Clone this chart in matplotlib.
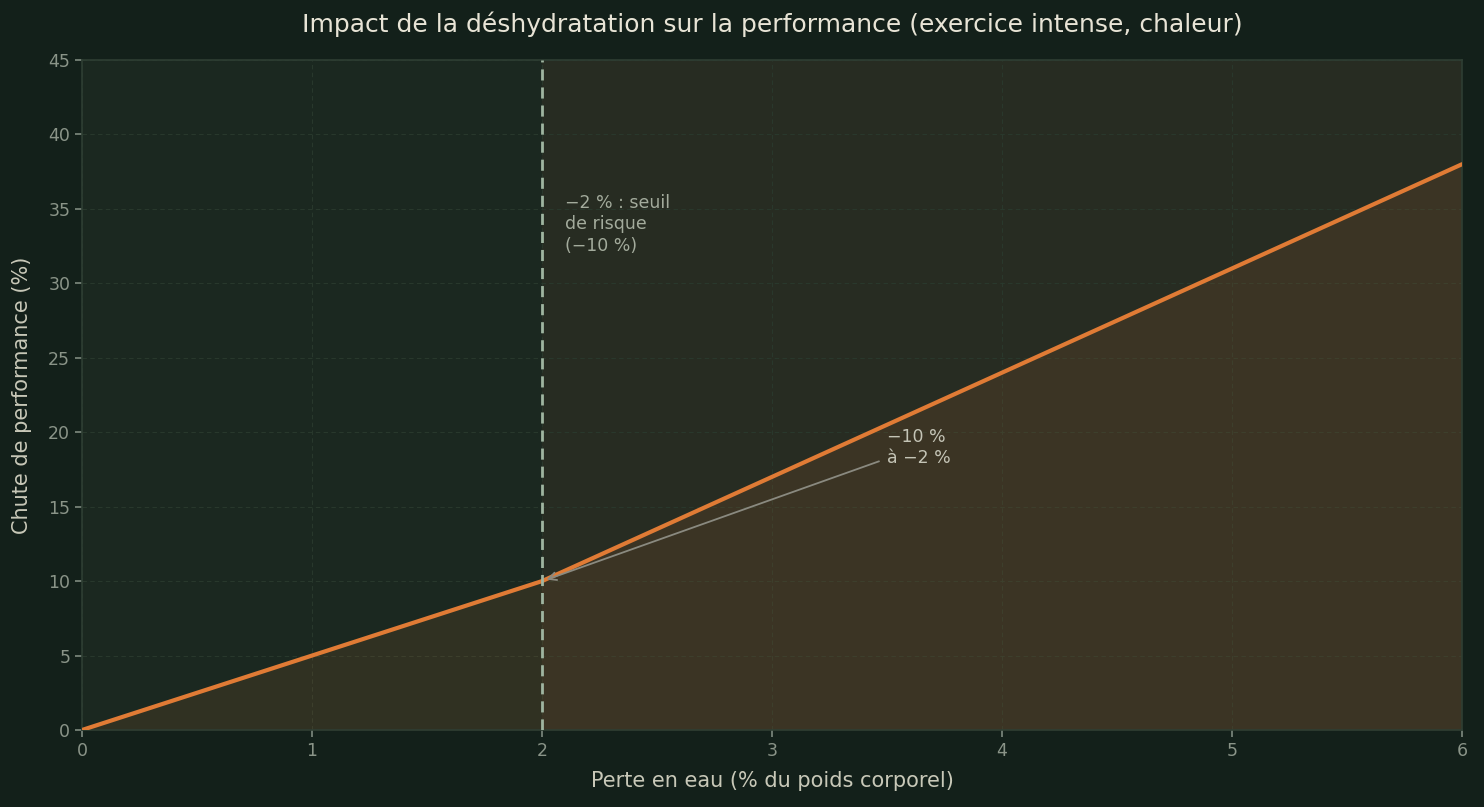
import matplotlib
matplotlib.use("Agg")
import matplotlib.pyplot as plt

# perte en eau (% du poids corporel) et chute de performance (%)
perte = [0, 1, 2, 3, 4, 5, 6]
chute = [0, 5, 10, 17, 24, 31, 38]
seuil = 2

x_ticks = [0, 1, 2, 3, 4, 5, 6]
y_ticks = [0, 5, 10, 15, 20, 25, 30, 35, 40, 45]

bg = "#13201a"
orange = "#e07b35"

fig = plt.figure(figsize=(14.84, 8.07), dpi=100, facecolor=bg)
ax = fig.add_axes([82 / 1484, 77 / 807, 1380 / 1484, 670 / 807])
ax.set_facecolor("#1a2820")

# zones avant / apres le seuil
ax.axvspan(0, seuil, color="#1b2820", zorder=0)
ax.axvspan(seuil, 6, color="#272c22", zorder=0)

ax.fill_between(perte, chute, 0, color=orange, alpha=0.11, lw=0, zorder=1)
ax.plot(perte, chute, color=orange, lw=3, zorder=3, solid_capstyle="round")

ax.axvline(seuil, color="#9fb5a0", lw=2, ls=(0, (4, 2.5)), zorder=4)

ax.text(2.1, 36.0, "\u22122 % : seuil\nde risque\n(\u221210 %)", color="#a3ab9c",
        fontsize=12.5, va="top", ha="left", linespacing=1.25, zorder=5)

ax.annotate("\u221210 %\nà \u22122 %", xy=(2.02, 10.1), xytext=(3.5, 19.0),
            color="#c4c4b6", fontsize=12.5, ha="left", va="center",
            arrowprops=dict(arrowstyle="->", color="#8a8a80", lw=1.3,
                            mutation_scale=14, shrinkA=4, shrinkB=0), zorder=5)

ax.set_xlim(0, 6)
ax.set_ylim(0, 45)
ax.set_xticks(x_ticks)
ax.set_yticks(y_ticks)
ax.grid(True, color="#2a3a2e", ls=(0, (4, 3)), lw=0.8, alpha=0.9)
ax.set_axisbelow(True)

for s in ax.spines.values():
    s.set_color("#2e3e33")
    s.set_linewidth(1.2)
ax.tick_params(colors="#7f8a80", labelsize=12.5, length=5, width=1.2)
for lab in ax.get_xticklabels() + ax.get_yticklabels():
    lab.set_color("#8a9488")

ax.set_xlabel("Perte en eau (% du poids corporel)", color="#c8c8b8", fontsize=15, labelpad=8)
ax.set_ylabel("Chute de performance (%)", color="#c8c8b8", fontsize=15, labelpad=12)
ax.set_title("Impact de la déshydratation sur la performance (exercice intense, chaleur)",
             color="#e8e4d6", fontsize=18, pad=20)

fig.savefig("out.png", dpi=100, facecolor=bg)
